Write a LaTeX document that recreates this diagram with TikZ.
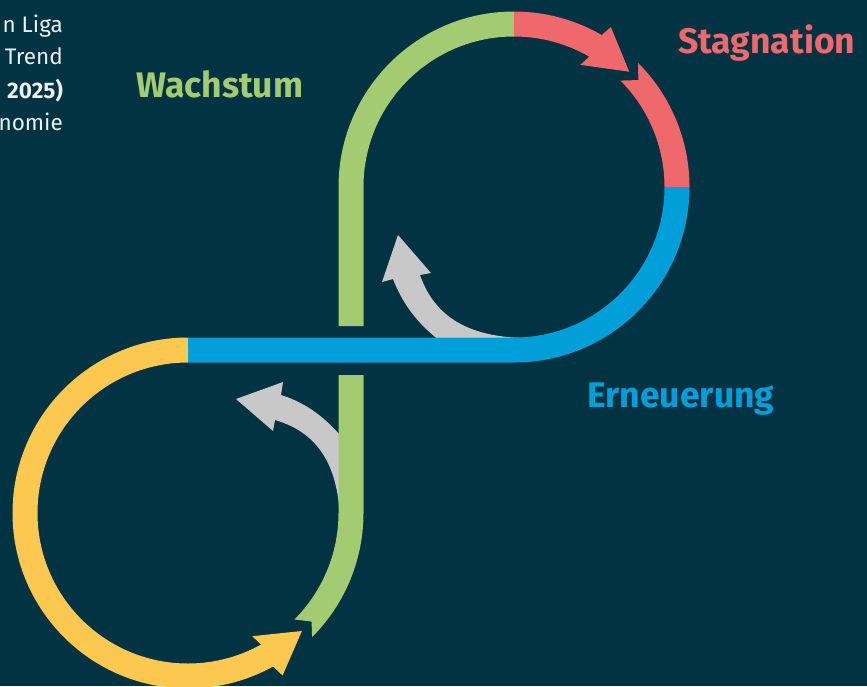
\documentclass[tikz,border=0pt]{standalone}
\usepackage{fontspec}
\setmainfont{Fira Sans}
\definecolor{bgcol}{HTML}{023342}
\definecolor{greenc}{HTML}{A3CB72}
\definecolor{redc}{HTML}{EE686C}
\definecolor{bluec}{HTML}{009FDA}
\definecolor{yellowc}{HTML}{FDC850}
\definecolor{greyc}{HTML}{C8C8C8}
\definecolor{textc}{HTML}{EBF0F2}
\tikzset{
  band/.style={line width=25pt, line cap=butt},
  note/.style={anchor=base east, text=textc, font=\fontsize{22.5}{27}\selectfont, inner sep=0pt},
  phase/.style={anchor=base west, font=\fontsize{35.5}{42}\selectfont\bfseries, inner sep=0pt},
}
\begin{document}
\begin{tikzpicture}[x=1pt, y=-1pt]
  % canvas
  \fill[bgcol] (0,0) rectangle (867,686);
  \useasboundingbox (0,0) rectangle (867,686);

  \coordinate (U) at (514,187);
  \coordinate (L) at (188,513);

  % grey return arrows (behind the loop)
  \fill[greyc] (525,348) -- (525,338) .. controls (470,337) and (435,318) .. (420,275)
    -- (431,273) -- (398,235) -- (382,282) -- (393,279)
    .. controls (403,305) and (420,328) .. (450,348) -- cycle;
  \fill[greyc] (350,523) -- (340,523) .. controls (339,468) and (320,433) .. (275,420)
    -- (273,431) -- (236,399) -- (283,382) -- (281,395)
    .. controls (307,403) and (330,420) .. (350,448) -- cycle;

  % upper loop
  \begin{scope}[shift={(U)}]
    % growth: vertical stem and arc to the top
    \draw[band, greenc] (-163,139) -- (-163,0) arc[start angle=180, end angle=270, radius=163];
    % stagnation: arrow
    \draw[band, redc] (270:163) arc[start angle=270, end angle=300.5, radius=163];
    \fill[redc] (300:150.5) -- (298.5:139) -- (315:163) -- (301.2:187) -- (300:175.5) -- cycle;
    % stagnation: notched tail down to the right
    \fill[redc] (315:150.5) -- (319.3:164) -- (315:175.5)
      arc[start angle=315, end angle=360, radius=175.5]
      -- (0:150.5) arc[start angle=360, end angle=315, radius=150.5] -- cycle;
    % renewal: arc to the bottom and straight run to the left
    \draw[band, bluec] (0:163) arc[start angle=0, end angle=90, radius=163] -- ++(-326,0);
  \end{scope}

  % lower loop
  \begin{scope}[shift={(L)}]
    \draw[band, yellowc] (270:163) arc[start angle=270, end angle=60.5, radius=163];
    \fill[yellowc] (61:150.5) -- (62.4:139) -- (46:164) -- (59.8:188) -- (61:175.5) -- cycle;
    \fill[greenc] (150.5,-138) -- (0:150.5) arc[start angle=0, end angle=45, radius=150.5]
      -- (41.3:164.5) -- (45:175.5) arc[start angle=45, end angle=0, radius=175.5]
      -- (175.5,-138) -- cycle;
  \end{scope}

  % labels
  \node[phase, text=greenc] (wachstum) at (136,97) {Wachstum};
  \node[phase, text=redc] (stagnation) at (678,53) {Stagnation};
  \node[phase, text=bluec] (erneuerung) at (587,407) {Erneuerung};

  % side note
  \node[note] (n1) at (63,32) {n Liga};
  \node[note] (n2) at (63,64.5) {Trend};
  \node[note, font=\fontsize{22.5}{27}\selectfont\bfseries] (n3) at (63,98) {2025)};
  \node[note] (n4) at (63,130) {nomie};
\end{tikzpicture}
\end{document}
